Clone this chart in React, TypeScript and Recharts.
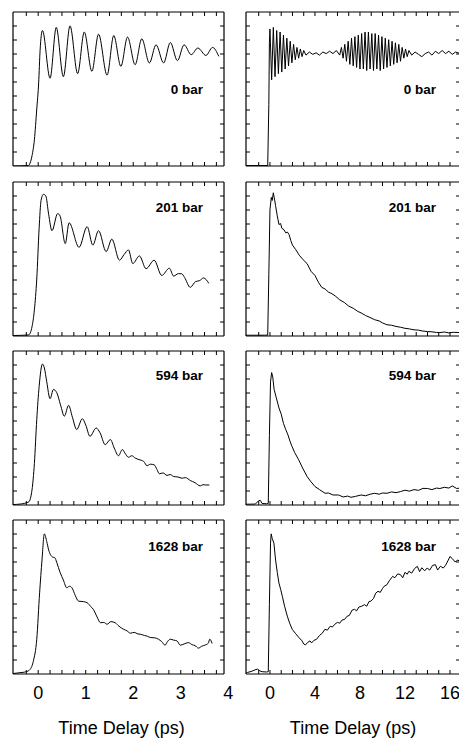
import React from 'react';
import { LineChart, Line, XAxis, YAxis } from 'recharts';

type Pt = [number, number];

// Time delay (ps) vs. normalised signal (0 = baseline, 100 = top of frame)

// ---- short window (left column) ----
const short0bar: Pt[] = [
  [-0.53, 0], [-0.21, 0.3], [-0.13, 6.6], [-0.08, 17], [-0.03, 37], [0.01, 54], [0.04, 75],
  [0.09, 88], [0.25, 57], [0.38, 90], [0.53, 58], [0.67, 91], [0.83, 60], [0.97, 87],
  [1.13, 61.5], [1.27, 85.6], [1.45, 59], [1.59, 84.7], [1.74, 64.7], [1.88, 83.7],
  [2.04, 65.8], [2.18, 82.6], [2.34, 66.9], [2.48, 78.7], [2.64, 66.9], [2.78, 80.2],
  [2.93, 68.4], [3.07, 78.7], [3.22, 72.3], [3.36, 76.6], [3.53, 71.8], [3.67, 77], [3.8, 71.2],
];

const short201bar: Pt[] = [
  [-0.53, 0.3], [-0.2, 0.7], [-0.13, 6], [-0.08, 17], [-0.03, 37], [0.02, 70], [0.06, 88],
  [0.11, 92], [0.16, 91], [0.22, 79], [0.29, 68.4], [0.41, 79.5], [0.46, 78], [0.57, 60],
  [0.65, 73.5], [0.86, 57.6], [1.03, 71], [1.15, 59], [1.27, 68.4], [1.43, 54.8], [1.55, 62.9],
  [1.71, 49.2], [1.81, 53], [1.9, 55.9], [1.99, 47], [2.13, 52], [2.27, 43.7], [2.44, 49.2],
  [2.6, 39.3], [2.76, 44], [2.85, 38.9], [2.95, 40.5], [3.02, 40.4], [3.08, 38], [3.2, 31.6],
  [3.31, 35.3], [3.4, 36], [3.48, 37.7], [3.59, 34.2],
];

const short594bar: Pt[] = [
  [-0.53, 0.3], [-0.38, 0.6], [-0.2, 2], [-0.13, 9.8], [-0.08, 27], [-0.03, 55.5], [0.02, 77],
  [0.09, 91.5], [0.13, 89], [0.18, 80], [0.25, 69], [0.32, 75], [0.39, 73], [0.47, 65],
  [0.55, 57.7], [0.64, 64.7], [0.72, 57], [0.81, 49], [0.93, 56], [1.0, 52], [1.09, 44.6],
  [1.22, 50], [1.3, 47], [1.41, 39.2], [1.52, 42.5], [1.6, 37], [1.69, 32], [1.77, 36],
  [1.84, 33], [1.9, 31], [1.97, 32], [2.04, 30.5], [2.12, 29.5], [2.22, 28.3], [2.29, 25.5],
  [2.36, 26.5], [2.44, 26.1], [2.5, 23], [2.55, 20.3], [2.63, 20.8], [2.71, 19.2], [2.78, 19.8],
  [2.85, 18.5], [2.94, 18.2], [3.03, 17.4], [3.1, 17.8], [3.2, 15.9], [3.3, 14.5], [3.41, 12.4],
  [3.47, 13.2], [3.52, 13], [3.6, 13],
];

const short1628bar: Pt[] = [
  [-0.53, 0.3], [-0.34, 1], [-0.25, 1.5], [-0.17, 3], [-0.1, 8.6], [-0.03, 22.6], [0.03, 52.7],
  [0.08, 74], [0.13, 91], [0.18, 86], [0.22, 80.6], [0.3, 76], [0.35, 75.5], [0.39, 72.5],
  [0.46, 66], [0.53, 61], [0.6, 56], [0.66, 57], [0.71, 56], [0.78, 51], [0.85, 47.3],
  [0.95, 47], [1.03, 46.3], [1.1, 44], [1.16, 42], [1.24, 37], [1.31, 33.3], [1.38, 33.5],
  [1.45, 32.3], [1.53, 34], [1.62, 33.3], [1.7, 31], [1.8, 29], [1.87, 28], [1.94, 26.5],
  [2.02, 27], [2.1, 26], [2.15, 25.8], [2.24, 25], [2.3, 24.5], [2.36, 23.7], [2.45, 23.5],
  [2.53, 22.6], [2.6, 21], [2.67, 18.7], [2.72, 21], [2.78, 22.6], [2.85, 22], [2.92, 21.5],
  [2.99, 18.7], [3.07, 19.5], [3.16, 20.4], [3.24, 19], [3.3, 18.5], [3.37, 16.8], [3.44, 18],
  [3.52, 18.9], [3.58, 20], [3.61, 22.6], [3.66, 19.8],
];

// ---- long window (right column) ----
const long0bar: Pt[] = [
  [-2.13, 0.3], [-0.2, 0.3], [-0.1, 40], [-0.05, 80],
  [0.0, 89], [0.15, 56], [0.3, 90], [0.45, 58], [0.6, 88], [0.75, 60], [0.9, 87], [1.05, 61],
  [1.2, 85], [1.35, 63], [1.5, 83], [1.65, 65], [1.8, 81], [1.95, 67], [2.1, 79], [2.25, 69],
  [2.4, 77], [2.55, 70], [2.7, 76], [2.85, 71], [3.0, 75], [3.2, 72],
  [3.5, 74], [3.8, 72.5], [4.1, 73.5], [4.4, 72], [4.7, 74], [5.0, 73], [5.3, 74.5], [5.6, 73],
  [5.9, 75], [6.2, 72],
  [6.35, 77], [6.5, 70], [6.65, 79], [6.8, 68], [6.95, 81], [7.1, 66], [7.25, 83], [7.4, 65],
  [7.55, 84], [7.7, 64], [7.85, 85], [8.0, 63], [8.15, 86], [8.3, 63], [8.45, 87], [8.6, 62],
  [8.75, 87], [8.9, 63], [9.05, 86], [9.2, 62], [9.35, 86], [9.5, 63], [9.65, 85], [9.8, 62],
  [9.95, 84], [10.1, 63], [10.25, 83], [10.4, 64], [10.55, 82], [10.7, 65], [10.85, 81],
  [11.0, 66], [11.15, 80], [11.3, 67], [11.45, 79], [11.6, 68], [11.75, 77], [11.9, 70],
  [12.05, 76], [12.2, 71], [12.35, 75],
  [12.6, 72], [12.9, 74], [13.2, 72.5], [13.5, 71], [13.8, 73], [14.1, 74], [14.4, 72],
  [14.7, 74.5], [15.0, 73], [15.3, 75], [15.6, 73], [15.9, 74.5], [16.2, 72.5], [16.5, 74], [16.9, 73],
];

const long201bar: Pt[] = [
  [-2.13, 0.5], [-0.5, 0.5], [-0.2, 0.6], [-0.1, 40], [0.0, 82], [0.12, 90], [0.2, 88], [0.3, 93],
  [0.4, 89], [0.5, 84.6], [0.65, 78], [0.8, 72.4], [0.95, 73], [1.05, 70], [1.25, 69], [1.4, 67],
  [1.55, 67.5], [1.7, 65.8], [1.85, 62], [2.0, 59], [2.3, 56], [2.6, 52.5], [2.95, 49.5], [3.3, 47],
  [3.65, 42], [4.0, 39.3], [4.3, 35], [4.6, 31.6], [4.9, 30.5], [5.2, 28.5], [5.5, 27.5], [5.8, 26],
  [6.2, 23.5], [6.6, 21.8], [7.0, 19.4], [7.4, 18], [7.8, 16], [8.1, 15], [8.5, 13.3], [8.9, 12],
  [9.3, 10.6], [9.7, 9.8], [10.0, 8.5], [10.4, 7.3], [10.8, 7], [11.2, 6.2], [11.6, 5.7], [12.0, 5],
  [12.4, 4.6], [12.8, 4], [13.2, 3.8], [13.6, 3.2], [14.0, 2.9], [14.4, 2.7], [14.8, 2.3],
  [15.1, 2.2], [15.5, 2.6], [15.9, 2], [16.3, 2.4], [16.9, 2.2],
];

const long594bar: Pt[] = [
  [-2.13, 0.5], [-1.3, 0.6], [-1.0, 2.8], [-0.85, 3], [-0.7, 1], [-0.3, 0.8], [-0.15, 1],
  [-0.05, 45], [0.05, 80], [0.15, 86], [0.25, 83], [0.37, 75], [0.55, 70], [0.8, 63], [1.0, 59],
  [1.2, 53], [1.4, 49], [1.6, 45.5], [1.8, 41], [1.96, 38], [2.2, 34], [2.55, 29.4], [2.9, 24],
  [3.3, 18.5], [3.6, 15.5], [4.0, 12], [4.4, 10], [4.9, 7.6], [5.2, 7.8], [5.6, 6.5], [6.1, 6.5],
  [6.5, 5.2], [6.9, 5.8], [7.2, 5], [7.6, 5.6], [8.1, 6.5], [8.5, 6], [8.9, 7], [9.3, 7.6],
  [9.7, 7], [10.0, 7.8], [10.4, 7.6], [10.8, 8.5], [11.2, 8], [11.6, 8.7], [12.0, 9.6], [12.4, 9],
  [12.8, 10], [13.2, 9.5], [13.6, 10.8], [14.0, 10.7], [14.4, 10], [14.8, 11], [15.1, 10.7],
  [15.5, 11.5], [15.9, 11], [16.2, 12.4], [16.6, 10.7], [16.9, 11],
];

const long1628bar: Pt[] = [
  [-2.13, 0.5], [-2.0, 1], [-1.6, 1.8], [-1.4, 2.5], [-1.1, 3.2], [-0.9, 2], [-0.7, 1.5],
  [-0.3, 1.3], [-0.15, 1.5], [-0.05, 45], [0.05, 85], [0.11, 91], [0.2, 88], [0.35, 85],
  [0.5, 74], [0.65, 66], [0.8, 59], [0.95, 55], [1.1, 50.5], [1.3, 44], [1.54, 37.6], [1.75, 33],
  [1.98, 29], [2.25, 26.5], [2.57, 23.7], [2.85, 21.5], [3.0, 19.5], [3.16, 18.9], [3.35, 20.5],
  [3.56, 21.5], [3.7, 20.2], [3.9, 21.8], [4.15, 22.6], [4.4, 25], [4.65, 26.5], [4.88, 29],
  [5.1, 28.5], [5.35, 31], [5.55, 30.5], [5.76, 32.3], [6.0, 33.5], [6.2, 33], [6.4, 35],
  [6.64, 35.5], [6.85, 37.5], [7.05, 38], [7.3, 41.5], [7.52, 42], [7.7, 41], [7.9, 43.5],
  [8.15, 44], [8.4, 45], [8.6, 44], [8.8, 47], [8.97, 47.3], [9.2, 49], [9.4, 52.5], [9.6, 53.7],
  [9.8, 53], [10.0, 55.5], [10.15, 57], [10.4, 58], [10.6, 60.5], [10.9, 63.4], [11.1, 62.5],
  [11.35, 65], [11.6, 64.5], [11.8, 62.5], [12.0, 66], [12.2, 64.8], [12.35, 66.7], [12.6, 65.5],
  [12.85, 68.5], [13.1, 69.9], [13.3, 66.5], [13.5, 69], [13.75, 67], [13.97, 68.8], [14.2, 67.5],
  [14.45, 70.5], [14.7, 71], [14.9, 67.5], [15.15, 70], [15.4, 68.8], [15.6, 70.5], [15.85, 74],
  [16.0, 76.3], [16.2, 75], [16.45, 72.8], [16.7, 74], [16.9, 73],
];

const pressureLabels = ['0 bar', '201 bar', '594 bar', '1628 bar'];

const shortMinorTicks = [-0.25, 0, 0.25, 0.5, 0.75, 1, 1.25, 1.5, 1.75, 2, 2.25, 2.5, 2.75, 3, 3.25, 3.5, 3.75];
const shortLabelTicks = [0, 1, 2, 3, 4];
const longMinorTicks = [-1, 0, 1, 2, 3, 4, 5, 6, 7, 8, 9, 10, 11, 12, 13, 14, 15, 16];
const longLabelTicks = [0, 4, 8, 12, 16];
const yTicks = Array.from({ length: 10 }, (_, i) => ((i + 1) * 100) / 11);

const FONT = '"Liberation Sans", Arial, Helvetica, sans-serif';

const columns = [
  {
    left: 13,
    width: 211,
    domain: [-0.53, 3.91] as [number, number],
    minor: shortMinorTicks,
    major: shortLabelTicks,
    curve: 'monotone' as const,
    series: [short0bar, short201bar, short594bar, short1628bar],
    labelRight: 203,
    titleDx: 3,
  },
  {
    left: 246,
    width: 214,
    domain: [-2.13, 16.89] as [number, number],
    minor: longMinorTicks,
    major: longLabelTicks,
    curve: 'linear' as const,
    series: [long0bar, long201bar, long594bar, long1628bar],
    labelRight: 436,
    titleDx: 0,
  },
];

const rowTops = [12, 182, 351, 520];
const labelTops = [83, 201, 369, 540];
const PLOT_H = 154;
const AXIS_H = 65;
// room to the right of the bottom row for the last tick number
const LABEL_PAD = 12;

// tick marks only, no tick text
const NoText = () => <g />;

type PanelProps = {
  pts: Pt[];
  col: (typeof columns)[number];
  top: number;
  last: boolean;
};

function Panel({ pts, col, top, last }: PanelProps) {
  const rows = pts.map(([t, v]) => ({ t, v }));
  const height = PLOT_H + 2 + (last ? AXIS_H - 1 : 0);
  const padR = last ? LABEL_PAD : 0;
  const frame = { stroke: '#000', strokeWidth: 1.2 };
  return (
    <div style={{ position: 'absolute', left: col.left - 1, top: top - 1 }}>
      <LineChart
        width={col.width + 2 + padR}
        height={height}
        data={rows}
        margin={{ top: 1, right: 1 + padR, left: 1, bottom: last ? 0 : 1 }}
      >
        <XAxis
          xAxisId="b"
          dataKey="t"
          type="number"
          domain={col.domain}
          ticks={col.minor}
          allowDataOverflow
          orientation="bottom"
          mirror
          tick={NoText}
          tickSize={4}
          interval={0}
          stroke="#000"
          axisLine={frame}
        />
        <XAxis
          xAxisId="top"
          dataKey="t"
          type="number"
          domain={col.domain}
          ticks={col.minor}
          allowDataOverflow
          orientation="top"
          mirror
          tick={NoText}
          tickSize={4}
          interval={0}
          stroke="#000"
          axisLine={frame}
        />
        <YAxis
          yAxisId="l"
          dataKey="v"
          type="number"
          domain={[0, 100]}
          ticks={yTicks}
          allowDataOverflow
          orientation="left"
          mirror
          tick={NoText}
          tickSize={4}
          interval={0}
          stroke="#000"
          axisLine={frame}
        />
        <YAxis
          yAxisId="r"
          dataKey="v"
          type="number"
          domain={[0, 100]}
          ticks={yTicks}
          allowDataOverflow
          orientation="right"
          mirror
          tick={NoText}
          tickSize={4}
          interval={0}
          stroke="#000"
          axisLine={frame}
        />
        {last && (
          <XAxis
            xAxisId="lbl"
            dataKey="t"
            type="number"
            domain={col.domain}
            ticks={col.major}
            allowDataOverflow
            orientation="bottom"
            height={AXIS_H}
            axisLine={false}
            tickLine={false}
            tickSize={0}
            tickMargin={12}
            interval={0}
            tick={{ fill: '#000', fontSize: 18, fontFamily: FONT }}
            label={{
              value: 'Time Delay (ps)',
              position: 'insideBottom',
              offset: 5,
              dx: col.titleDx,
              fill: '#000',
              fontSize: 18,
              fontFamily: FONT,
            }}
          />
        )}
        <Line
          xAxisId="b"
          yAxisId="l"
          dataKey="v"
          type={col.curve}
          stroke="#000"
          strokeWidth={1}
          dot={false}
          isAnimationActive={false}
        />
      </LineChart>
    </div>
  );
}

export default function App() {
  return (
    <div
      style={{
        position: 'absolute',
        left: 0,
        top: 0,
        width: 459,
        height: 740,
        overflow: 'hidden',
        background: '#fff',
      }}
    >
      {columns.map((col, ci) =>
        col.series.map((pts, ri) => (
          <React.Fragment key={`${ci}-${ri}`}>
            <Panel pts={pts} col={col} top={rowTops[ri]} last={ri === rowTops.length - 1} />
            <div
              style={{
                position: 'absolute',
                top: labelTops[ri],
                left: col.labelRight - 80,
                width: 80,
                textAlign: 'right',
                fontFamily: FONT,
                fontWeight: 'bold',
                fontSize: 13.5,
                lineHeight: '14px',
                color: '#000',
                whiteSpace: 'nowrap',
              }}
            >
              {pressureLabels[ri]}
            </div>
          </React.Fragment>
        ))
      )}
    </div>
  );
}
